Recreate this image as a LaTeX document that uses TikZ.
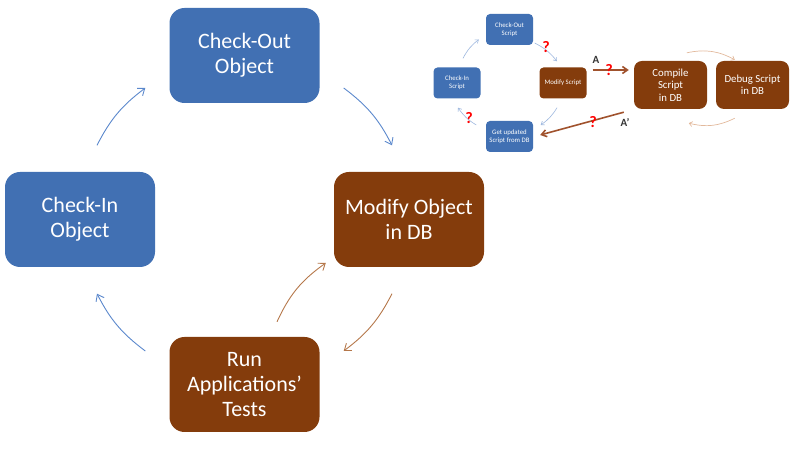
\documentclass[tikz,border=0pt]{standalone}
\usepackage{fontspec}
\setmainfont{Carlito}
\usetikzlibrary{arrows.meta}
\definecolor{boxblue}{HTML}{4170B3}
\definecolor{boxbrown}{HTML}{843C0C}
\definecolor{arrblue}{HTML}{5B88CC}
\definecolor{arrbrown}{HTML}{B5774A}
\definecolor{lightblue}{HTML}{9DB7DE}
\definecolor{tan}{HTML}{E2B99C}
\definecolor{qred}{HTML}{FF0000}
\definecolor{darkarr}{HTML}{A0522D}
\tikzset{
  bigbox/.style={rounded corners=15pt, minimum width=150pt, minimum height=95pt, text=white, align=center, font=\fontsize{22}{25}\selectfont, inner sep=0pt},
  smallbox/.style={rounded corners=4pt, minimum width=47pt, minimum height=31pt, text=white, align=center, font=\fontsize{6.8}{8}\selectfont, inner sep=0pt},
  midbox/.style={rounded corners=8pt, minimum width=73pt, minimum height=48pt, text=white, align=center, font=\fontsize{10.8}{12.5}\selectfont, inner sep=0pt},
  cyc/.style={-{Straight Barb[length=6pt,width=9pt]}, line width=0.9pt},
  scyc/.style={-{Straight Barb[length=3pt,width=4.5pt]}, line width=0.6pt, lightblue},
  big/.style={-{Straight Barb[length=5pt,width=7pt]}, line width=1.6pt, darkarr},
  qm/.style={text=qred, font=\bfseries\fontsize{16}{16}\selectfont, inner sep=0pt},
  lbl/.style={text=black!80, font=\bfseries\fontsize{11}{11}\selectfont, inner sep=0pt}
}
\begin{document}
\begin{tikzpicture}[x=1pt,y=1pt]
\useasboundingbox (0,0) rectangle (800,449);
% main cycle
\node[bigbox, fill=boxblue] (co) at (244.5,393.5) {Check-Out\\Object};
\node[bigbox, fill=boxblue] (ci) at (80,229.5) {Check-In\\Object};
\node[bigbox, fill=boxbrown] (mo) at (409,229.5) {Modify Object\\in DB};
\node[bigbox, fill=boxbrown] (rt) at (244.5,64.5) {Run\\Applications’\\Tests};
\draw[cyc, arrblue] ([xshift=17pt,yshift=26.5pt]ci.north) to[bend left=13] ([xshift=-24pt,yshift=-32.5pt]co.west);
\draw[cyc, arrblue] ([xshift=24pt,yshift=-32.5pt]co.east) to[bend left=13] ([xshift=-17pt,yshift=26.5pt]mo.north);
\draw[cyc, arrbrown] ([xshift=-17pt,yshift=-26.5pt]mo.south) to[bend left=13] ([xshift=24pt,yshift=33.5pt]rt.east);
\draw[cyc, arrbrown] ([xshift=32.5pt,yshift=15pt]rt.north) to[bend left=15] ([xshift=-8pt,yshift=-43.5pt]mo.west);
\draw[cyc, arrblue] ([xshift=-24pt,yshift=33.5pt]rt.west) to[bend left=13] ([xshift=17pt,yshift=-26.5pt]ci.south);
% small cycle
\node[smallbox, fill=boxblue] (sco) at (509.5,419.5) {Check-Out\\Script};
\node[smallbox, fill=boxblue] (sci) at (457,366) {Check-In\\Script};
\node[smallbox, fill=boxbrown] (smo) at (563,366) {Modify Script};
\node[smallbox, fill=boxblue] (sgu) at (509.5,312.5) {Get updated\\Script from DB};
\node[midbox, fill=boxbrown] (cmp) at (670.5,364) {Compile\\Script\\in DB};
\node[midbox, fill=boxbrown] (dbg) at (752.5,364) {Debug Script\\in DB};
\draw[scyc] ([xshift=6pt,yshift=9pt]sci.north) to[bend left=12] ([xshift=-7pt,yshift=-10pt]sco.west);
\draw[scyc] ([xshift=1.5pt,yshift=-13.5pt]sco.east) to[bend left=12] ([xshift=-6pt,yshift=6pt]smo.north);
\draw[scyc] ([xshift=-6pt,yshift=-9pt]smo.south) to[bend left=12] ([xshift=7.5pt,yshift=11.5pt]sgu.east);
\draw[scyc] ([xshift=-9.5pt,yshift=11.5pt]sgu.west) to[bend left=12] ([xshift=1pt,yshift=-9pt]sci.south);
\draw[big] ([xshift=6pt,yshift=13pt]smo.east) -- ([xshift=-5pt,yshift=15pt]cmp.west);
\draw[big] ([xshift=-10pt,yshift=-3pt]cmp.south west) -- ([xshift=7pt,yshift=1.5pt]sgu.east);
\draw[-{Straight Barb[length=3pt,width=5pt]}, line width=0.7pt, tan] ([xshift=-29pt,yshift=8pt]dbg.north west) to[bend left=20] ([xshift=19pt,yshift=1pt]dbg.north west);
\draw[-{Straight Barb[length=3pt,width=5pt]}, line width=0.7pt, tan] ([xshift=19pt,yshift=-9pt]dbg.south west) to[bend left=20] ([xshift=-27pt,yshift=-14pt]dbg.south west);
\node[lbl] (la) at (596,389) {A};
\node[lbl] (lb) at (625,326) {A’};
\node[qm] (q1) at (546,402) {?};
\node[qm] (q2) at (609,379) {?};
\node[qm] (q3) at (469,331) {?};
\node[qm] (q4) at (593,327) {?};
\end{tikzpicture}
\end{document}
